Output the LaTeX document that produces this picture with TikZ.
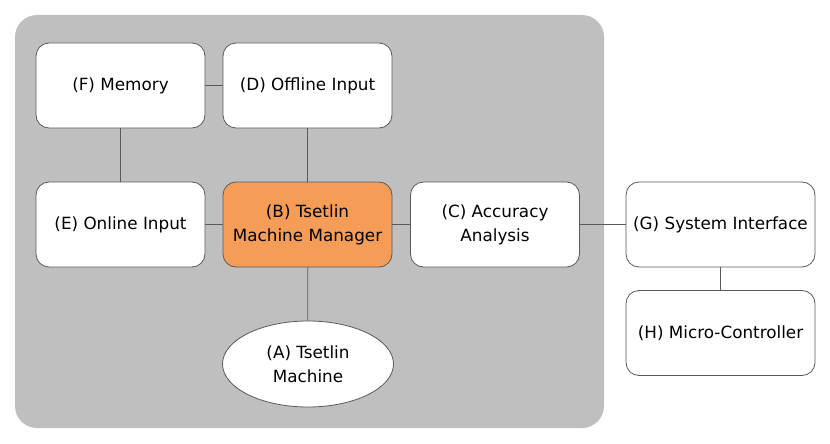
\documentclass[tikz,border=0pt]{standalone}
\usepackage{fontspec}
\setmainfont{DejaVu Sans}
\usetikzlibrary{shapes.geometric}
\definecolor{panelgray}{HTML}{BFBFBF}
\definecolor{mgrorange}{HTML}{F59D56}
\definecolor{edgegray}{HTML}{595959}
\begin{document}
\begin{tikzpicture}[x=1pt,y=-1pt,
		block/.style={draw=edgegray,fill=white,line width=.8pt,rounded corners=13pt,minimum width=169pt,minimum height=85pt,align=center,inner sep=2pt,font=\fontsize{16.8}{24}\selectfont},
		wideblock/.style={block,minimum width=189pt},
		link/.style={draw=edgegray,line width=.8pt}]
			\useasboundingbox (0,0) rectangle (830,444);
			\fill[panelgray,rounded corners=22pt] (15,15) rectangle (604,428);
			\node[block] (mem) at (120.5,85.5) {(F) Memory};
			\node[block] (offline) at (307.5,85.5) {(D) Offline Input};
			\node[block] (online) at (120.5,224.5) {(E) Online Input};
			\node[block,fill=mgrorange] (mgr) at (307.5,224.5) {(B) Tsetlin\\Machine Manager};
			\node[block] (acc) at (495,224.5) {(C) Accuracy\\Analysis};
			\node[block,ellipse,rounded corners=0pt,minimum width=171pt,minimum height=86pt] (tm) at (308,364) {(A) Tsetlin\\Machine};
			\node[wideblock] (sysif) at (720.5,224.5) {(G) System Interface};
			\node[wideblock] (mcu) at (720.5,333) {(H) Micro-Controller};
			\draw[link] (mem) -- (offline);
			\draw[link] (mem) -- (online);
			\draw[link] (offline) -- (mgr);
			\draw[link] (online) -- (mgr);
			\draw[link] (mgr) -- (acc);
			\draw[link] (mgr) -- (tm);
			\draw[link] (acc) -- (sysif);
			\draw[link] (sysif) -- (mcu);
		\end{tikzpicture}
\end{document}
